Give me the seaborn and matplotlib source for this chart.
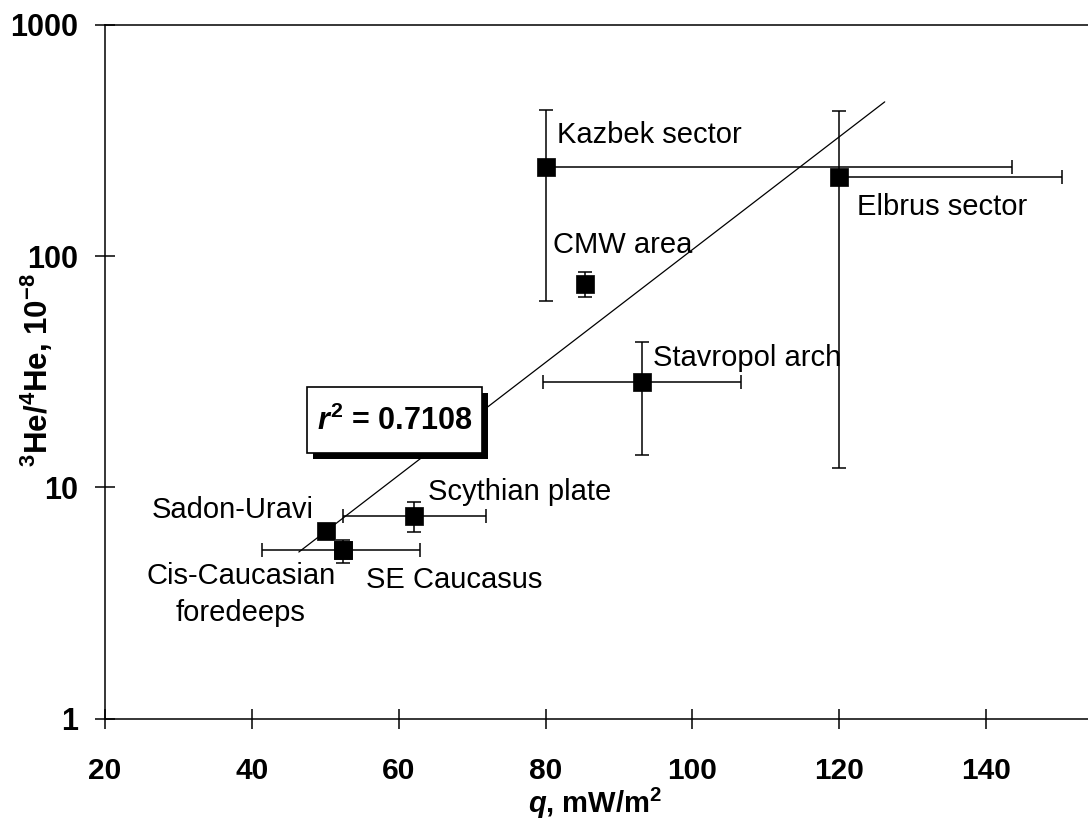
import numpy as np
import pandas as pd
import matplotlib
matplotlib.use("Agg")
import matplotlib.pyplot as plt
import matplotlib.patheffects as pe
from matplotlib.patches import Rectangle
from matplotlib import font_manager
import seaborn as sns

# Helium isotope ratio vs. surface heat flow, by region
regions = ["Kazbek sector", "Elbrus sector", "CMW area", "Stavropol arch",
           "Scythian plate", "Sadon-Uravi", "SE Caucasus", "Cis-Caucasian\nforedeeps"]
heat_flow = [80.0, 120.0, 85.4, 93.1, 62.1, 50.1, 52.4, 52.4]
he_ratio = [243.0, 220.0, 75.7, 28.6, 7.5, 6.5, 5.35, 5.35]
heat_flow_min = [80.0, 120.0, 85.4, 79.7, 52.4, 50.1, 41.4, 52.4]
heat_flow_max = [143.5, 150.3, 85.4, 106.6, 71.9, 50.1, 62.9, 52.4]
he_ratio_min = [64.0, 12.1, 66.7, 13.8, 6.4, 6.5, 4.7, 5.35]
he_ratio_max = [429.0, 425.0, 85.0, 42.5, 8.65, 6.5, 5.9, 5.35]

# Exponential trend line (straight on the log axis) and its fit quality
trend_q = [46.4, 126.2]
trend_ratio = [5.25, 465.0]
r_squared = 0.7108

x_ticks = [20, 40, 60, 80, 100, 120, 140]
y_ticks = [1, 10, 100, 1000]

df = pd.DataFrame({"region": regions, "q": heat_flow, "ratio": he_ratio})

sns.set_style("ticks")
plt.rcParams["font.family"] = ["Liberation Sans", "DejaVu Sans"]
plt.rcParams["mathtext.fontset"] = "custom"
plt.rcParams["mathtext.rm"] = "Liberation Sans:bold"
plt.rcParams["mathtext.bf"] = "Liberation Sans:bold"
plt.rcParams["mathtext.it"] = "Liberation Sans:italic:bold"
for key in ["text.color", "axes.labelcolor", "xtick.color", "ytick.color",
            "axes.edgecolor"]:
    plt.rcParams[key] = "black"

installed = {f.name for f in font_manager.fontManager.ttflist}
narrow = "Liberation Sans Narrow" if "Liberation Sans Narrow" in installed else "Liberation Sans"

W, H = 1088, 832
fig = plt.figure(figsize=(W / 100, H / 100), dpi=100)
ax = fig.add_axes([105 / W, 1 - 718.5 / H, 983 / W, (718.5 - 25) / H])

ax.set_yscale("log")
ax.set_xlim(20, 20 + 983 / 7.342)
ax.set_ylim(1, 1000)

q = np.array(heat_flow)
r = np.array(he_ratio)
xerr = np.vstack([q - np.array(heat_flow_min), np.array(heat_flow_max) - q])
yerr = np.vstack([r - np.array(he_ratio_min), np.array(he_ratio_max) - r])
ax.errorbar(q, r, xerr=xerr, yerr=yerr, fmt="none", ecolor="black",
            elinewidth=1.1, capsize=5, capthick=1.1, zorder=2)

sns.lineplot(x=trend_q, y=trend_ratio, ax=ax, color="black", linewidth=0.9, zorder=2)

sns.scatterplot(data=df, x="q", y="ratio", ax=ax, marker="s", s=150,
                color="black", edgecolor="black", linewidth=0.5, zorder=3)

# Region labels, offset from each point in pixels (baseline of last line)
label_style = {
    "Kazbek sector": ((11, 24), "left"),
    "Elbrus sector": ((18, -38), "left"),
    "CMW area": ((-32, 31), "left"),
    "Stavropol arch": ((11, 16), "left"),
    "Scythian plate": ((14, 16), "left"),
    "Sadon-Uravi": ((-12, 13), "right"),
    "SE Caucasus": ((23, -38), "left"),
    "Cis-Caucasian\nforedeeps": ((-102, -71), "center"),
}
for name, xv, yv in zip(regions, heat_flow, he_ratio):
    off, ha = label_style[name]
    ax.annotate(name, (xv, yv), xytext=off, textcoords="offset pixels",
                ha=ha, va="baseline", fontsize=21, linespacing=1.4,
                multialignment="center", color="black", zorder=4)

# r^2 box with a drop shadow
box = Rectangle((307, H - 453), 175, 66, transform=None, facecolor="white",
                edgecolor="black", linewidth=1.2, zorder=5)
box.set_path_effects([
    pe.SimplePatchShadow(offset=(4, -4), shadow_rgbFace="black", alpha=1.0),
    pe.Normal()])
fig.add_artist(box)
fig.text(395 / W, 1 - 421 / H, rf"$r^{{2}}$ = {r_squared:.4f}", ha="center",
         va="center", fontsize=22, fontweight="bold", color="black", zorder=6)

ax.set_xticks(x_ticks)
ax.set_yticks(y_ticks)
ax.set_yticklabels([str(v) for v in y_ticks])
ax.yaxis.set_minor_locator(matplotlib.ticker.NullLocator())
ax.tick_params(axis="both", which="major", direction="inout", length=15,
               width=1.1, color="black")
ax.tick_params(axis="x", pad=20)
ax.tick_params(axis="y", pad=12)
for lab in ax.get_xticklabels():
    lab.set_fontfamily(narrow)
    lab.set_fontweight("bold")
    lab.set_fontsize(25 if narrow != "Liberation Sans" else 21.5)
for lab in ax.get_yticklabels():
    lab.set_fontweight("bold")
    lab.set_fontsize(22)

for side in ["left", "bottom", "top"]:
    ax.spines[side].set_visible(True)
    ax.spines[side].set_linewidth(1.1)
    ax.spines[side].set_color("black")
ax.spines["right"].set_visible(False)

ax.set_xlabel(r"$q$, mW/m$^{2}$", fontsize=21, fontweight="bold")
ax.xaxis.set_label_coords((595 - 105) / 983, -(803 - 718.5) / (718.5 - 25))
ax.set_ylabel(r"$^{3}\mathrm{He}/^{4}\mathrm{He}$, 10$^{-8}$", fontsize=22.5,
              fontweight="bold")
ax.yaxis.set_label_coords(-(105 - 37) / 983, (718.5 - 370) / (718.5 - 25))
ax.xaxis.label.set_verticalalignment("center")
ax.yaxis.label.set_verticalalignment("center")
ax.grid(False)

fig.savefig("out.png", dpi=100)
